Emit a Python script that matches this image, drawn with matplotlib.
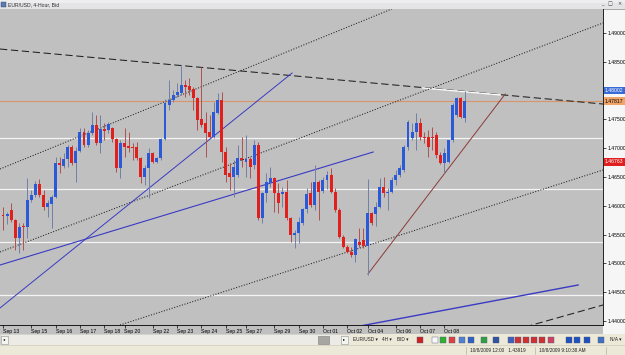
import numpy as np
import matplotlib.pyplot as plt
from matplotlib.patches import Rectangle

# ======================================================
# DATA
# ======================================================
opens = [1.4584, 1.4582, 1.4593, 1.4575, 1.4544, 1.4565, 1.4563, 1.4610, 1.4619, 1.4638,
         1.4619, 1.4598, 1.4603, 1.4615, 1.4674, 1.4669, 1.4681, 1.4702, 1.4674, 1.4695,
         1.4728, 1.4706, 1.4726, 1.4740, 1.4709, 1.4733, 1.4731, 1.4735, 1.4716, 1.4666,
         1.4709, 1.4703, 1.4702, 1.4702, 1.4683, 1.4650, 1.4666, 1.4692, 1.4676, 1.4683,
         1.4716, 1.4775, 1.4784, 1.4792, 1.4796, 1.4810, 1.4808, 1.4803, 1.4787, 1.4751,
         1.4744, 1.4728, 1.4719, 1.4761, 1.4784, 1.4693, 1.4657, 1.4650, 1.4653, 1.4683,
         1.4676, 1.4681, 1.4670, 1.4706, 1.4579, 1.4622, 1.4640, 1.4648, 1.4622, 1.4620,
         1.4624, 1.4579, 1.4549, 1.4553, 1.4570, 1.4594, 1.4622, 1.4601, 1.4641, 1.4626,
         1.4645, 1.4653, 1.4624, 1.4593, 1.4546, 1.4528, 1.4520, 1.4515, 1.4537, 1.4541,
         1.4530, 1.4587, 1.4585, 1.4598, 1.4632, 1.4622, 1.4624, 1.4645, 1.4653, 1.4662,
         1.4702, 1.4718, 1.4728, 1.4744, 1.4719, 1.4719, 1.4720, 1.4723, 1.4688, 1.4674,
         1.4676, 1.4714, 1.4758, 1.4787, 1.4752]
highs = [1.4598, 1.4590, 1.4605, 1.4577, 1.4570, 1.4570, 1.4648, 1.4627, 1.4643, 1.4647,
         1.4627, 1.4610, 1.4619, 1.4685, 1.4685, 1.4692, 1.4706, 1.4706, 1.4702, 1.4735,
         1.4735, 1.4732, 1.4763, 1.4758, 1.4758, 1.4744, 1.4746, 1.4737, 1.4718, 1.4714,
         1.4735, 1.4728, 1.4709, 1.4711, 1.4685, 1.4671, 1.4700, 1.4694, 1.4685, 1.4718,
         1.4785, 1.4818, 1.4801, 1.4813, 1.4843, 1.4818, 1.4822, 1.4806, 1.4789, 1.4841,
         1.4763, 1.4758, 1.4780, 1.4796, 1.4798, 1.4702, 1.4674, 1.4680, 1.4706, 1.4719,
         1.4723, 1.4685, 1.4714, 1.4711, 1.4624, 1.4657, 1.4667, 1.4650, 1.4639, 1.4632,
         1.4645, 1.4581, 1.4558, 1.4581, 1.4596, 1.4631, 1.4641, 1.4671, 1.4645, 1.4650,
         1.4660, 1.4666, 1.4631, 1.4596, 1.4549, 1.4532, 1.4528, 1.4544, 1.4561, 1.4561,
         1.4647, 1.4589, 1.4606, 1.4648, 1.4650, 1.4631, 1.4650, 1.4662, 1.4671, 1.4706,
         1.4749, 1.4744, 1.4761, 1.4752, 1.4728, 1.4732, 1.4737, 1.4728, 1.4693, 1.4700,
         1.4715, 1.4778, 1.4789, 1.4789, 1.4800]
lows = [1.4558, 1.4568, 1.4572, 1.4523, 1.4518, 1.4523, 1.4544, 1.4606, 1.4615, 1.4615,
        1.4593, 1.4581, 1.4562, 1.4613, 1.4657, 1.4666, 1.4667, 1.4671, 1.4641, 1.4693,
        1.4702, 1.4702, 1.4723, 1.4706, 1.4692, 1.4714, 1.4726, 1.4711, 1.4659, 1.4648,
        1.4685, 1.4693, 1.4680, 1.4680, 1.4640, 1.4636, 1.4613, 1.4674, 1.4674, 1.4680,
        1.4714, 1.4766, 1.4780, 1.4789, 1.4792, 1.4789, 1.4792, 1.4766, 1.4732, 1.4737,
        1.4685, 1.4718, 1.4718, 1.4760, 1.4676, 1.4641, 1.4627, 1.4615, 1.4650, 1.4667,
        1.4650, 1.4648, 1.4664, 1.4575, 1.4570, 1.4606, 1.4633, 1.4589, 1.4587, 1.4598,
        1.4575, 1.4537, 1.4527, 1.4536, 1.4567, 1.4588, 1.4598, 1.4593, 1.4575, 1.4622,
        1.4630, 1.4622, 1.4589, 1.4544, 1.4527, 1.4518, 1.4511, 1.4502, 1.4528, 1.4527,
        1.4480, 1.4567, 1.4565, 1.4596, 1.4615, 1.4593, 1.4622, 1.4636, 1.4650, 1.4658,
        1.4697, 1.4714, 1.4697, 1.4714, 1.4709, 1.4685, 1.4697, 1.4683, 1.4672, 1.4657,
        1.4674, 1.4711, 1.4754, 1.4752, 1.4746]
closes = [1.4582, 1.4586, 1.4575, 1.4544, 1.4563, 1.4563, 1.4610, 1.4619, 1.4638, 1.4619,
          1.4598, 1.4605, 1.4615, 1.4674, 1.4671, 1.4681, 1.4702, 1.4674, 1.4695, 1.4728,
          1.4706, 1.4726, 1.4740, 1.4709, 1.4733, 1.4730, 1.4742, 1.4716, 1.4666, 1.4709,
          1.4702, 1.4700, 1.4700, 1.4683, 1.4650, 1.4666, 1.4692, 1.4676, 1.4683, 1.4716,
          1.4778, 1.4784, 1.4792, 1.4797, 1.4810, 1.4806, 1.4801, 1.4787, 1.4749, 1.4740,
          1.4726, 1.4719, 1.4763, 1.4784, 1.4693, 1.4653, 1.4650, 1.4667, 1.4683, 1.4680,
          1.4681, 1.4667, 1.4706, 1.4579, 1.4622, 1.4641, 1.4648, 1.4622, 1.4605, 1.4624,
          1.4579, 1.4549, 1.4553, 1.4572, 1.4594, 1.4621, 1.4601, 1.4641, 1.4624, 1.4645,
          1.4653, 1.4624, 1.4593, 1.4546, 1.4528, 1.4519, 1.4515, 1.4542, 1.4532, 1.4530,
          1.4588, 1.4570, 1.4598, 1.4632, 1.4622, 1.4624, 1.4645, 1.4653, 1.4666, 1.4702,
          1.4745, 1.4728, 1.4744, 1.4719, 1.4718, 1.4702, 1.4718, 1.4688, 1.4674, 1.4692,
          1.4714, 1.4775, 1.4787, 1.4754, 1.4782]

date_labels = ["Sep 13", "Sep 15", "Sep 16", "Sep 17", "Sep 18", "Sep 20", "Sep 22",
               "Sep 23", "Sep 24", "Sep 25", "Sep 27", "Sep 29", "Sep 30", "Oct 01",
               "Oct 02", "Oct 04", "Oct 06", "Oct 07", "Oct 08"]
date_bars = [0, 7, 13, 19, 25, 30, 37, 43, 49, 55, 60, 67, 73, 79, 85, 90, 97, 103, 109]

price_ticks = [1.440, 1.445, 1.450, 1.455, 1.460, 1.465, 1.470, 1.475, 1.480, 1.485, 1.490]

white_levels = [1.47177, 1.46292, 1.45372, 1.44451]
orange_level = 1.47817
ask_tag = 1.48002
red_tag = 1.46763

# trend lines: bar index / price pairs
dash_top_x, dash_top_y = [-0.74, 148.15], [1.48722, 1.47767]
white_seg_x, white_seg_y = [103.7, 122.7], [1.48045, 1.47924]
dot_upper_x, dot_upper_y = [-0.74, 96.0], [1.46639, 1.49417]
dot_mid_x, dot_mid_y = [-0.74, 148.15], [1.45198, 1.49174]
dot_low_x, dot_low_y = [28.9, 148.15], [1.43931, 1.46622]
blue_steep_x, blue_steep_y = [-0.74, 71.4], [1.44226, 1.48306]
blue_mid_x, blue_mid_y = [-0.74, 91.4], [1.44972, 1.46934]
blue_low_x, blue_low_y = [86.9, 142.0], [1.43896, 1.44625]
brown_x, brown_y = [90.1, 124.0], [1.44816, 1.47941]
dash_low_x, dash_low_y = [128.9, 148.15], [1.43896, 1.44278]

# ======================================================
# CONFIG
# ======================================================
W, H = 625, 355
CHART_L, CHART_R, CHART_T, CHART_B = 0, 603, 9, 325
BAR_PX, FIRST_PX = 4.05, 3
PX_PER_UNIT, REF_Y, REF_P = 5760.0, 33, 1.49

BG = "#c0c0c0"
BULL, BEAR = "#2b5ad8", "#e0201c"
BULL_WICK, BEAR_WICK = "#7080a8", "#b05050"
LINE_BLUE = "#3a3ac4"
FS = 3.7

plt.rcParams["font.family"] = ["Liberation Sans", "DejaVu Sans"]

fig = plt.figure(figsize=(W / 100, H / 100), dpi=100)

# ======================================================
# WINDOW CHROME (pixel coordinates)
# ======================================================
bg = fig.add_axes([0, 0, 1, 1])
bg.set_xlim(0, W)
bg.set_ylim(H, 0)
bg.axis("off")

bg.add_patch(Rectangle((0, 0), W, 8.5, fc="#e4e4e6", ec="none"))
bg.add_patch(Rectangle((0, 0), W, 3, fc="#eeeef0", ec="none"))
bg.plot([0, W], [8.5, 8.5], color="#9a9a9a", lw=0.6)
bg.add_patch(Rectangle((1, 1.5), 4.5, 5, fc="#5a7ab0", ec="#304870", lw=0.3))
bg.text(8, 4.3, "EUR/USD, 4-Hour, Bid", fontsize=FS, va="center", color="#303030")
for x, s in [(602, "_"), (610, "\u25a1"), (619, "\u00d7")]:
    bg.text(x, 4, s, fontsize=3.6, va="center", ha="center", color="#404040",
            family="DejaVu Sans")

# price axis panel and date row
bg.add_patch(Rectangle((CHART_R, CHART_T), W - CHART_R, CHART_B - CHART_T + 9,
                       fc="#f6f6f6", ec="none"))
bg.add_patch(Rectangle((0, CHART_B), CHART_R, 9, fc=BG, ec="none"))

# scrollbar row
bg.add_patch(Rectangle((0, 334), 350, 11, fc="#ecebe6", ec="#b8b8b0", lw=0.4))
bg.add_patch(Rectangle((1, 335.5), 7, 8, fc="#f4f4f0", ec="#909090", lw=0.4))
bg.text(4.5, 339.5, "\u25c2", fontsize=3, ha="center", va="center", family="DejaVu Sans")
bg.add_patch(Rectangle((318, 335.5), 11, 8, fc="#a8a6a0", ec="#808080", lw=0.4))
bg.add_patch(Rectangle((341, 335.5), 7, 8, fc="#f4f4f0", ec="#909090", lw=0.4))
bg.text(344.5, 339.5, "\u25b8", fontsize=3, ha="center", va="center", family="DejaVu Sans")

# toolbar
bg.add_patch(Rectangle((350, 334), W - 350, 11, fc="#ece9d8", ec="none"))
for x, s in [(353, "EUR/USD \u25be"), (382, "4H \u25be"), (397, "BID \u25be"), (610, "N/A \u25be")]:
    bg.text(x, 339.8, s, fontsize=3.4, va="center", color="#202020", family=["Liberation Sans", "DejaVu Sans"])
icons = [(417, "#d02020"), (432, "#f8f8f8"), (440, "#30b030"), (449, "#e04040"),
         (459, "#5080d0"), (468, "#3060c0"), (481, "#30a040"), (493, "#3050a0"),
         (508, "#4060c0"), (515, "#d03030"), (523, "#d03030"), (531, "#d03030"),
         (539, "#d03030"), (548, "#d04060"), (566, "#2050c0"), (574, "#2050c0"),
         (584, "#2050c0"), (598, "#4070c0")]
for x, c in icons:
    bg.add_patch(Rectangle((x, 336.5), 5.5, 6, fc=c, ec="#506080", lw=0.3))

# status bar
bg.add_patch(Rectangle((0, 345), W, 10, fc="#ece9d8", ec="none"))
bg.plot([0, W], [345.3, 345.3], color="#c8c4b4", lw=0.4)
for x in [466, 535, 606]:
    bg.plot([x, x], [346.5, 354], color="#a8a490", lw=0.4)
bg.text(470, 350.5, "10/8/2009 12:00   1.43919", fontsize=3.4, va="center", color="#202020")
bg.text(539, 350.5, "10/8/2009 9:10:38 AM", fontsize=3.4, va="center", color="#202020")

# ======================================================
# PRICE CHART
# ======================================================
ax = fig.add_axes([CHART_L / W, (H - CHART_B) / H, (CHART_R - CHART_L) / W,
                   (CHART_B - CHART_T) / H])
ax.set_facecolor(BG)

x_lo = (CHART_L - FIRST_PX) / BAR_PX
x_hi = (CHART_R - FIRST_PX) / BAR_PX
y_hi = REF_P + (REF_Y - CHART_T) / PX_PER_UNIT
y_lo = REF_P - (CHART_B - REF_Y) / PX_PER_UNIT
ax.set_xlim(x_lo, x_hi)
ax.set_ylim(y_lo, y_hi)

# horizontal levels
for lvl in white_levels:
    ax.axhline(lvl, color="#f4f4f4", lw=0.9, zorder=1)
ax.axhline(orange_level, color="#d8946a", lw=0.8, zorder=1)

# trend lines
ax.plot(dash_top_x, dash_top_y, color="#202020", lw=0.75, ls=(0, (7, 3.5)), zorder=2)
ax.plot(white_seg_x, white_seg_y, color="white", lw=0.9, zorder=2)
ax.plot(dot_upper_x, dot_upper_y, color="#202020", lw=0.75, ls=(0, (1, 1.6)), zorder=2)
ax.plot(dot_mid_x, dot_mid_y, color="#202020", lw=0.75, ls=(0, (1, 1.6)), zorder=2)
ax.plot(dot_low_x, dot_low_y, color="#202020", lw=0.75, ls=(0, (1, 1.6)), zorder=2)
ax.plot(blue_steep_x, blue_steep_y, color=LINE_BLUE, lw=0.7, zorder=2)
ax.plot(blue_mid_x, blue_mid_y, color=LINE_BLUE, lw=0.8, zorder=2)
ax.plot(blue_low_x, blue_low_y, color=LINE_BLUE, lw=1.0, zorder=2)
ax.plot(brown_x, brown_y, color="#8c3a3a", lw=0.7, zorder=2)
ax.plot(dash_low_x, dash_low_y, color="#202020", lw=0.75, ls=(0, (7, 3.5)), zorder=2)

# candles
o = np.array(opens)
h = np.array(highs)
l = np.array(lows)
c = np.array(closes)
idx = np.arange(len(o))
up = c >= o
ax.vlines(idx, l, h, colors=np.where(up, BULL_WICK, BEAR_WICK), lw=0.7, zorder=3)
body = np.maximum(np.abs(c - o), 0.00013)
ax.bar(idx, body, bottom=np.minimum(o, c), width=0.72,
       color=np.where(up, BULL, BEAR), lw=0, zorder=4)

# axes styling
for side in ["top", "left"]:
    ax.spines[side].set_visible(False)
ax.spines["right"].set_linewidth(0.6)
ax.spines["bottom"].set_linewidth(0.6)

# the 1.48000 label sits under the ask tag, so leave it blank
ax.yaxis.tick_right()
ax.set_yticks(price_ticks)
ax.set_yticklabels(["" if abs(p - ask_tag) < 0.001 else f"{p:.5f}" for p in price_ticks])
ax.tick_params(axis="y", direction="out", length=2, width=0.5, pad=1, labelsize=FS)

ax.set_xticks(date_bars)
ax.set_xticklabels(date_labels, ha="left")
ax.tick_params(axis="x", direction="out", length=2, width=0.5, pad=1, labelsize=FS)

# price tags on the axis
yt = ax.get_yaxis_transform()
for p, fc, tc in [(ask_tag, "#3a6ad8", "white"), (orange_level, "#f0a468", "black"),
                  (red_tag, "#e02020", "white")]:
    ax.text(1.003, p, f"{p:.5f}", transform=yt, fontsize=FS, va="center", ha="left",
            color=tc, clip_on=False, zorder=10,
            bbox=dict(boxstyle="square,pad=0.25", fc=fc, ec="none"))

fig.savefig("out.png", dpi=100)
print("saved out.png")
